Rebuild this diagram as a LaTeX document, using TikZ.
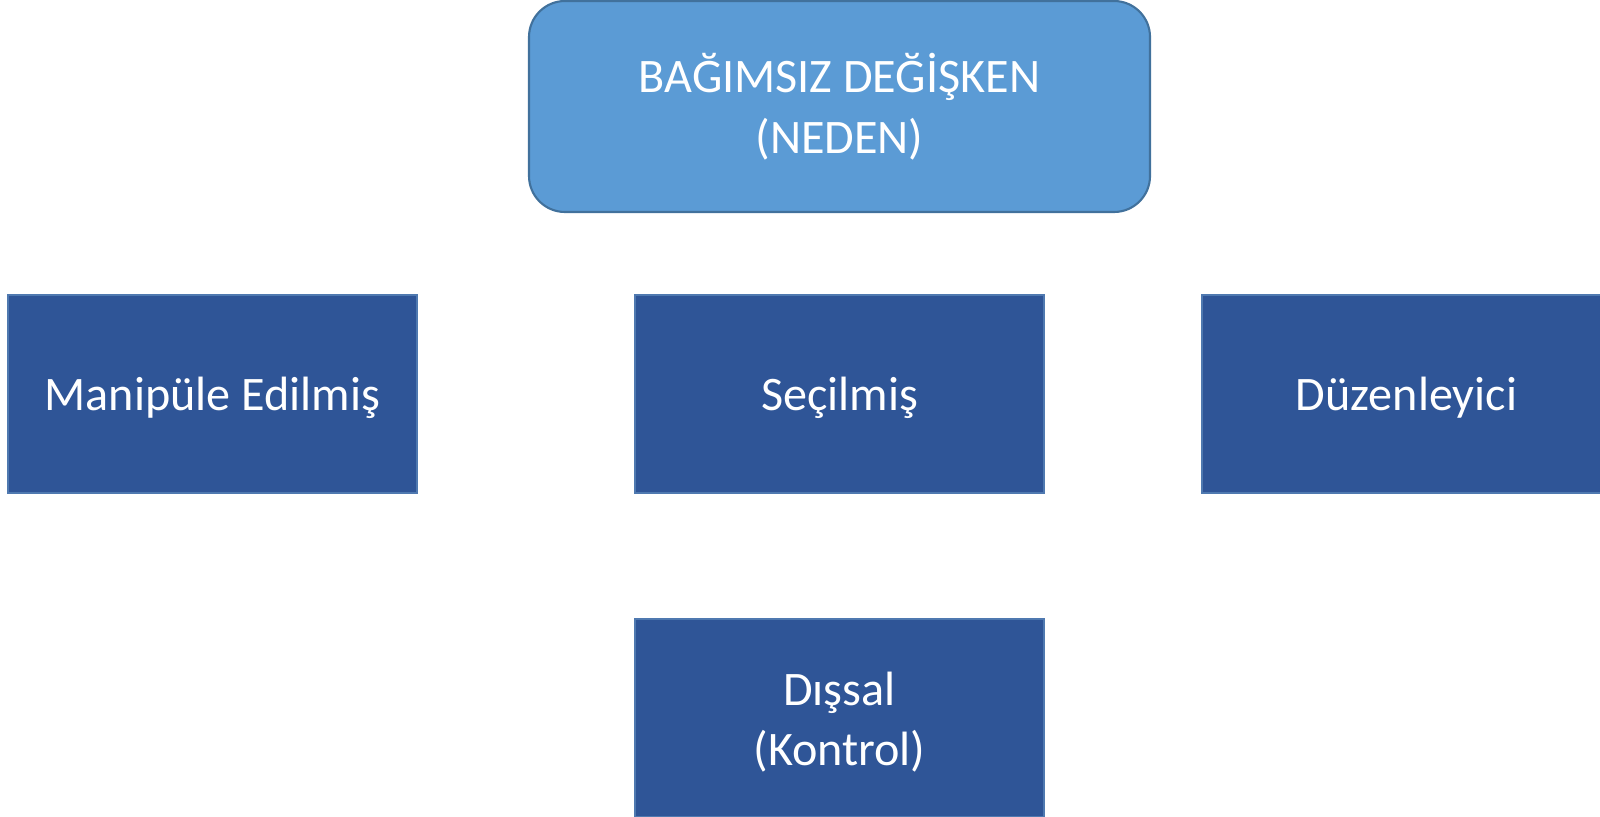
\documentclass[tikz,border=0pt]{standalone}
\usepackage{fontspec}
\setmainfont{Carlito}
\definecolor{lightfill}{HTML}{5B9BD5}
\definecolor{lightline}{HTML}{41719C}
\definecolor{darkfill}{HTML}{2F5597}
\definecolor{darkline}{HTML}{4F79B0}
\tikzset{
    RB1/.style ={rectangle,rounded corners=0.36cm,minimum width = 6.21cm, minimum height = 2.11cm, draw=lightline, fill=lightfill, line width=0.6pt, text=white, align=center, inner sep=0pt},
    RA1/.style ={rectangle,minimum width = 4.09cm, minimum height = 1.98cm, draw=darkline, fill=darkfill, line width=0.6pt, text=white, align=center, inner sep=0pt},
    RA2/.style ={RA1, text height=12.6pt, text depth=3pt}}
\begin{document}
\begin{tikzpicture}[font=\fontsize{13.7}{17.2}\selectfont]
        \useasboundingbox (0,0) rectangle (16,8.16);
        \node[RB1] (neden) at (8.395,7.095) {BAĞIMSIZ DEĞİŞKEN\\(NEDEN)};
        \node[RA2] (manip) at (2.125,4.22) {Manipüle Edilmiş};
        \node[RA2] (secil) at (8.395,4.22) {Seçilmiş};
        \node[RA2] (duzen) at (14.065,4.22) {Düzenleyici};
        \node[RA1, text height=28.9pt] (dissal) at (8.395,0.98) {Dışsal\\(Kontrol)};
    \end{tikzpicture}
\end{document}
